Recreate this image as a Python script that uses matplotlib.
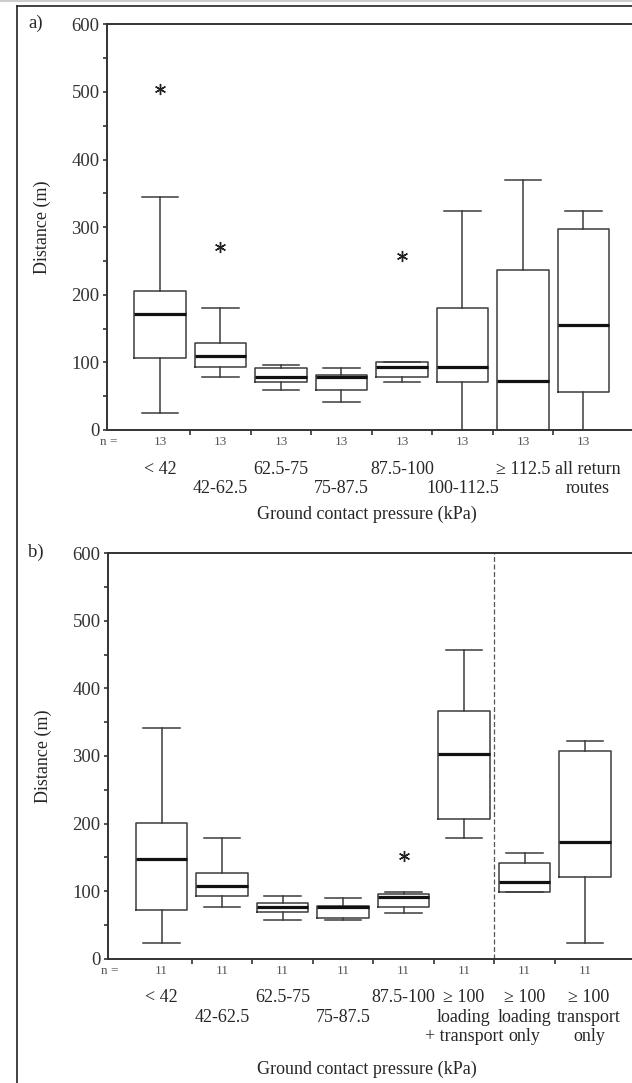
import matplotlib
matplotlib.use("Agg")
import matplotlib.pyplot as plt
from matplotlib.lines import Line2D
from matplotlib.ticker import MultipleLocator

plt.rcParams['font.family'] = ['Liberation Serif', 'DejaVu Serif']

# ---- data (distance in m) ----
positions = [1, 2, 3, 4, 5, 6, 7, 8]

a_labels = ["< 42", "42-62.5", "62.5-75", "75-87.5", "87.5-100",
            "100-112.5", "\u2265 112.5", "all return\nroutes"]
a_rows = [0, 1, 0, 1, 0, 1, 0, 0]
a_n = [13, 13, 13, 13, 13, 13, 13, 13]
a_whishi = [344, 180, 96, 92, 101, 324, 369, 324]
a_q3 = [205, 129, 92, 81, 100, 180, 237, 298]
a_med = [172, 110, 79, 79, 93, 93, 73, 155]
a_q1 = [107, 93, 71, 59, 79, 71, 0, 56]
a_whislo = [25, 78, 59, 42, 71, 0, 0, 0]
a_out = [[504], [270], [], [], [258], [], [], []]

b_labels = ["< 42", "42-62.5", "62.5-75", "75-87.5", "87.5-100",
            "\u2265 100\nloading\n+ transport", "\u2265 100\nloading\nonly",
            "\u2265 100\ntransport\nonly"]
b_rows = [0, 1, 0, 1, 0, 0, 0, 0]
b_n = [11, 11, 11, 11, 11, 11, 11, 11]
b_whishi = [341, 178, 93, 90, 99, 457, 156, 322]
b_q3 = [201, 127, 82, 78, 96, 367, 141, 308]
b_med = [147, 108, 76, 76, 92, 303, 113, 172]
b_q1 = [72, 93, 69, 60, 77, 207, 99, 121]
b_whislo = [23, 76, 57, 57, 68, 178, 98, 23]
b_out = [[], [], [], [], [152], [], [], []]

W, H = 632, 1083
UNIT = 60.5  # px per category
LINE = "#3c3c3c"
TXT = "#262626"
PX = 0.72  # points per pixel at dpi 100
FS = 13

fig = plt.figure(figsize=(W / 100, H / 100), dpi=100)


def make_axes(left, top, bottom, center1):
    xlo = 1 - (center1 - left) / UNIT
    xhi = 9.6
    width = (xhi - xlo) * UNIT
    ax = fig.add_axes([left / W, 1 - bottom / H, width / W, (bottom - top) / H])
    ax.set_xlim(xlo, xhi)
    ax.set_ylim(0, 600)
    return ax


def draw_panel(ax, whislo, q1, med, q3, whishi, out, labels, rows, ns):
    stats = []
    for i in range(len(positions)):
        stats.append(dict(whislo=whislo[i], q1=q1[i], med=med[i], q3=q3[i],
                          whishi=whishi[i], fliers=out[i]))
    ax.bxp(stats, positions=positions, widths=0.85, capwidths=0.6,
           showfliers=True, manage_ticks=False,
           boxprops=dict(color=LINE, lw=1.1),
           whiskerprops=dict(color=LINE, lw=1.1),
           capprops=dict(color=LINE, lw=1.1),
           medianprops=dict(color="#111111", lw=2.3),
           flierprops=dict(marker=(6, 2, 0), markersize=8,
                           markeredgecolor="#222222", markeredgewidth=1.0,
                           linestyle="none"))

    for side in ("left", "bottom", "top"):
        ax.spines[side].set_linewidth(1.4)
        ax.spines[side].set_color("#333333")
    ax.spines["right"].set_visible(False)

    ax.set_xticks([p + 0.5 for p in positions[:-1]])
    ax.set_xticklabels([])
    ax.tick_params(axis="x", direction="out", length=5 * PX, width=1.2,
                   color="#333333")
    ax.yaxis.set_major_locator(MultipleLocator(100))
    ax.yaxis.set_minor_locator(MultipleLocator(50))
    ax.tick_params(axis="y", which="both", direction="out", length=4 * PX,
                   width=1.2, color="#333333", labelsize=13.5,
                   labelcolor="#333333", pad=2.5)

    # n counts and category labels below the axis
    x0 = ax.get_xlim()[0]
    ax.annotate("n =", xy=(x0, 0), xytext=(-7 * PX, -12 * PX),
                textcoords="offset points", ha="left", va="center",
                fontsize=9.5, color="#555555", annotation_clip=False)
    for p, lab, r, n in zip(positions, labels, rows, ns):
        ax.annotate(str(n), xy=(p, 0), xytext=(0, -12 * PX),
                    textcoords="offset points", ha="center", va="center",
                    fontsize=9.5, color="#555555", annotation_clip=False)
        shift = 4 if p == positions[-1] else 0
        for k, line in enumerate(lab.split("\n")):
            ax.annotate(line, xy=(p, 0),
                        xytext=(shift * PX, -(39 + 19.5 * (r + k)) * PX),
                        textcoords="offset points", ha="center", va="center",
                        fontsize=FS, color=TXT, annotation_clip=False)


# panel a
ax_a = make_axes(107, 24.3, 430, 160)
draw_panel(ax_a, a_whislo, a_q1, a_med, a_q3, a_whishi, a_out,
           a_labels, a_rows, a_n)

# panel b
ax_b = make_axes(108, 553.3, 958.7, 161.5)
draw_panel(ax_b, b_whislo, b_q1, b_med, b_q3, b_whishi, b_out,
           b_labels, b_rows, b_n)
ax_b.axvline(6.5, color="#555555", lw=0.9, ls=(0, (4, 2)))


def ftext(x, y, s, **kw):
    fig.text(x / W, 1 - y / H, s, color=TXT, ha="center", va="center", **kw)


ftext(36, 23, "a)", fontsize=13.5)
ftext(36, 552, "b)", fontsize=13.5)
ftext(42, 227, "Distance (m)", fontsize=FS, rotation=90)
ftext(43, 756, "Distance (m)", fontsize=FS, rotation=90)
ftext(367, 514, "Ground contact pressure (kPa)", fontsize=FS)
ftext(367, 1069, "Ground contact pressure (kPa)", fontsize=FS)

# outer frame of the original figure
fig.add_artist(Line2D([17 / W, 17 / W], [0, 1 - 6 / H], transform=fig.transFigure,
                      color="#222222", lw=1.2))
fig.add_artist(Line2D([17 / W, 1], [1 - 6 / H, 1 - 6 / H], transform=fig.transFigure,
                      color="#222222", lw=1.2))
fig.add_artist(Line2D([0, 1], [1 - 1 / H, 1 - 1 / H], transform=fig.transFigure,
                      color="#cccccc", lw=1.5))

fig.savefig("out.png", dpi=100)
